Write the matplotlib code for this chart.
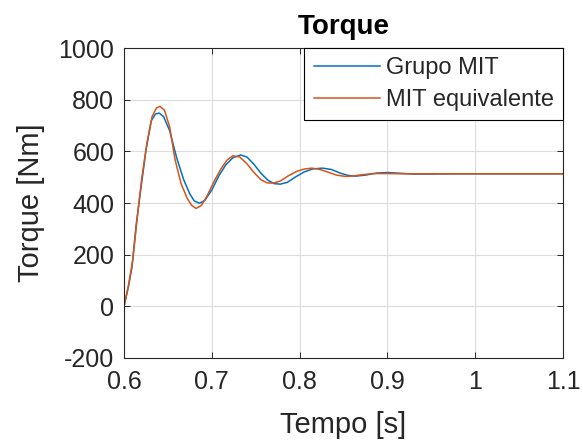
import numpy as np
import matplotlib
matplotlib.use('Agg')
import matplotlib.pyplot as plt

# valores
t_grupo = [0.600, 0.605, 0.609, 0.614, 0.620, 0.625, 0.631, 0.636, 0.640, 0.645,
           0.652, 0.660, 0.668, 0.675, 0.680, 0.686, 0.692, 0.700, 0.708, 0.716,
           0.724, 0.733, 0.740, 0.748, 0.756, 0.764, 0.771, 0.778, 0.786, 0.795,
           0.805, 0.815, 0.826, 0.836, 0.846, 0.855, 0.864, 0.875, 0.888, 0.900,
           0.915, 0.930, 0.950, 0.975, 1.000, 1.050, 1.100]
T_grupo = [0, 75, 150, 320, 476, 604, 718, 745, 748, 735,
           680, 575, 490, 435, 408, 399, 410, 450, 505, 548,
           575, 586, 578, 550, 515, 488, 475, 473, 480, 500,
           520, 532, 535, 530, 516, 507, 504, 508, 516, 518,
           515, 512, 512, 513, 513, 513, 513]

t_equiv = [0.600, 0.605, 0.610, 0.615, 0.620, 0.626, 0.632, 0.637, 0.641, 0.646,
           0.652, 0.658, 0.665, 0.672, 0.677, 0.682, 0.688, 0.695, 0.702, 0.710,
           0.717, 0.724, 0.732, 0.740, 0.748, 0.756, 0.763, 0.770, 0.778, 0.787,
           0.797, 0.806, 0.814, 0.823, 0.832, 0.842, 0.852, 0.860, 0.872, 0.885,
           0.900, 0.920, 0.950, 1.000, 1.050, 1.100]
T_equiv = [0, 80, 180, 340, 490, 630, 735, 768, 774, 760,
           695, 570, 475, 418, 391, 379, 390, 430, 480, 530,
           565, 583, 578, 552, 518, 490, 478, 477, 485, 505,
           523, 532, 535, 530, 520, 508, 503, 504, 510, 514,
           514, 513, 513, 513, 513, 513]

plt.rcParams['font.family'] = ['Liberation Sans', 'DejaVu Sans']
plt.rcParams['axes.unicode_minus'] = False
txt = '#262626'

fig = plt.figure(figsize=(5.83, 4.43), dpi=100)
ax = fig.add_axes([0.2127, 0.1919, 0.753, 0.6997])

ax.plot(t_grupo, T_grupo, color='#0072BD', lw=1.1, label='Grupo MIT')
ax.plot(t_equiv, T_equiv, color='#D95319', lw=1.1, label='MIT equivalente')

ax.set_xlim(0.6, 1.1)
ax.set_ylim(-200, 1000)
ax.set_xticks([0.6, 0.7, 0.8, 0.9, 1.0, 1.1])
ax.set_xticklabels(['0.6', '0.7', '0.8', '0.9', '1', '1.1'])
ax.set_yticks(np.arange(-200, 1001, 200))
ax.grid(True, color='#dcdcdc', lw=0.8)
ax.set_axisbelow(True)
ax.tick_params(direction='in', top=True, right=True, labelsize=18,
               colors=txt, length=4, width=0.7)
ax.tick_params(axis='x', pad=9)
ax.tick_params(axis='y', pad=7)
for s in ax.spines.values():
    s.set_color(txt)
    s.set_linewidth(0.8)

ax.set_title('Torque', fontsize=20, fontweight='bold', color='black', pad=10)
ax.set_xlabel('Tempo [s]', fontsize=21, color=txt, labelpad=12)
ax.set_ylabel('Torque [Nm]', fontsize=21, color=txt, labelpad=10)

leg = ax.legend(loc='upper right', fontsize=17, borderaxespad=0, fancybox=False,
                edgecolor='black', framealpha=1, handlelength=2.8,
                handletextpad=0.25, labelspacing=0.4, borderpad=0.4)
leg.get_frame().set_linewidth(0.8)
for t in leg.get_texts():
    t.set_color(txt)

fig.savefig('out.png', dpi=100)
